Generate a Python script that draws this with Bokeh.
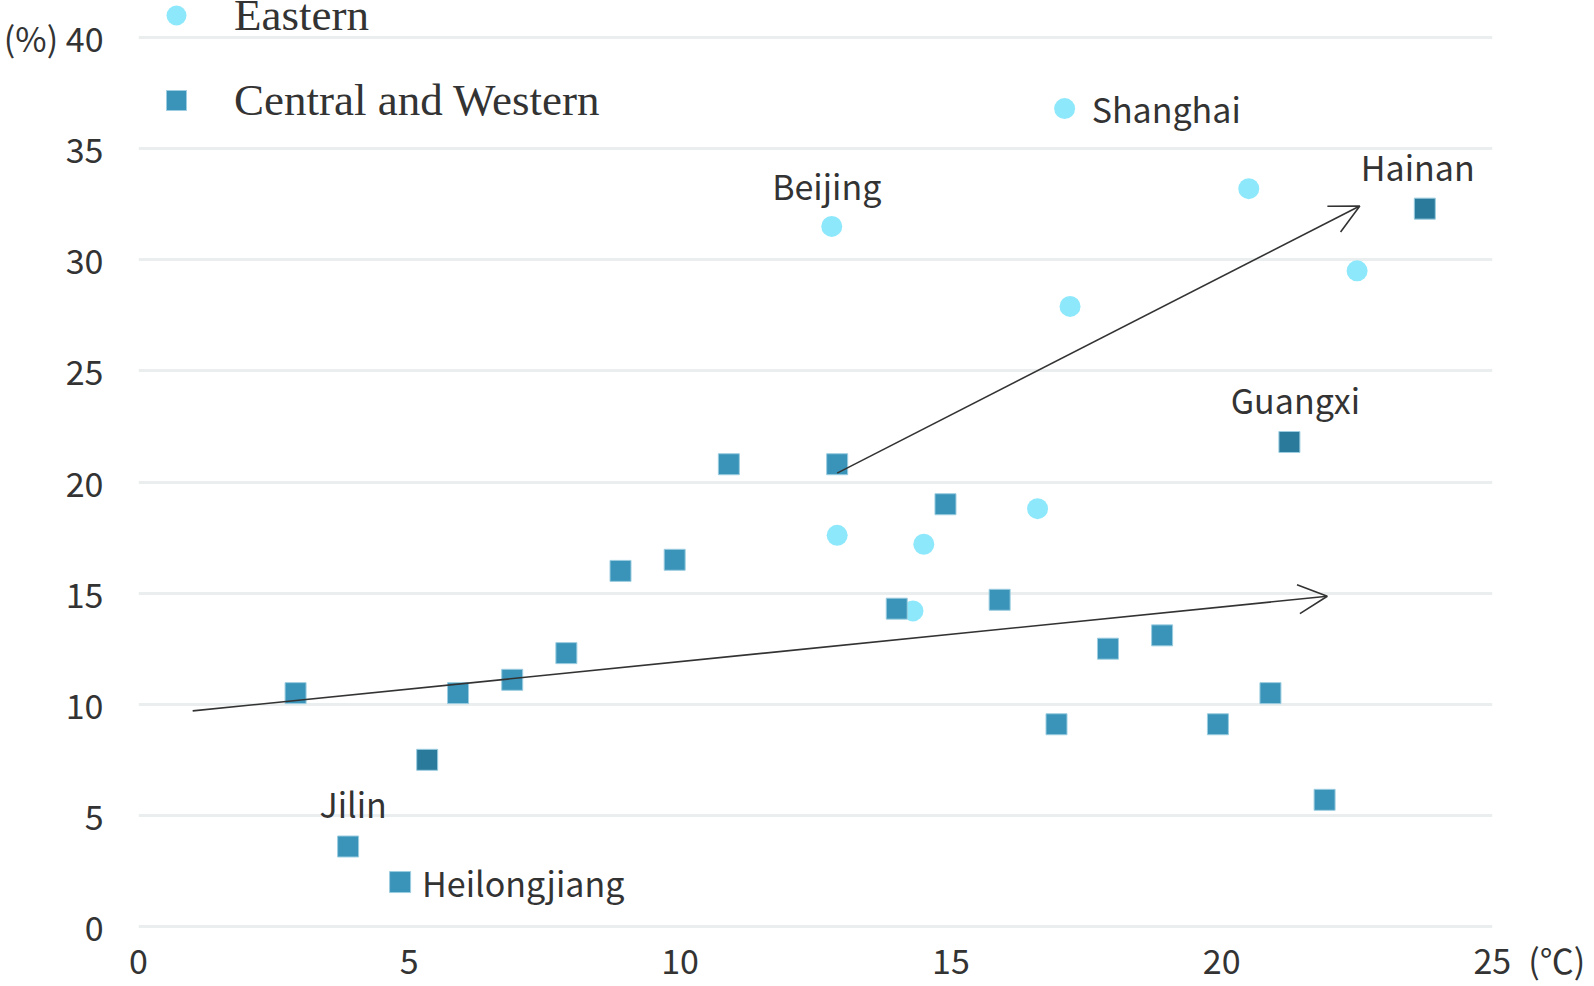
from bokeh.plotting import figure
from bokeh.models import (Range1d, FixedTicker, Legend, LegendItem, Label, Arrow,
                          OpenHead, ColumnDataSource)
from bokeh.embed import file_html
from bokeh.resources import INLINE

# ---------------- data ----------------
legend_labels = ["Eastern", "Central and Western"]

# Eastern provinces: x = mean temperature (°C), y = share (%)
eastern_name = ["Shanghai", "Beijing", "", "", "", "", "", "", ""]
eastern_x = [17.1, 12.8, 20.5, 22.5, 17.2, 12.9, 14.5, 16.6, 14.3]
eastern_y = [36.8, 31.5, 33.2, 29.5, 27.9, 17.6, 17.2, 18.8, 14.2]

# Central and Western provinces
cw_name = ["", "Jilin", "Heilongjiang", "", "", "", "", "", "", "", "", "",
           "", "", "", "", "", "", "", "", "Guangxi", "Hainan"]
cw_x = [2.9, 3.87, 4.83, 5.33, 5.9, 6.9, 7.9, 8.9, 9.9, 10.9, 12.9, 14.0,
        14.9, 15.9, 16.95, 17.9, 18.9, 19.93, 20.9, 21.9, 21.25, 23.75]
cw_y = [10.5, 3.6, 2.0, 7.5, 10.5, 11.1, 12.3, 16.0, 16.5, 20.8, 20.8, 14.3,
        19.0, 14.7, 9.1, 12.5, 13.1, 9.1, 10.5, 5.7, 21.8, 32.3]
cw_highlight = [False, False, False, True, False, False, False, False, False, False, False, False,
                False, False, False, False, False, False, False, False, True, True]

# trend arrows
trend_x0 = [1.0, 12.9]
trend_y0 = [9.7, 20.4]
trend_x1 = [21.95, 22.55]
trend_y1 = [14.86, 32.42]

x_ticks = [0, 5, 10, 15, 20, 25]
y_ticks = [0, 5, 10, 15, 20, 25, 30, 35, 40]
x_unit = "(℃)"
y_unit = "(%)"

# ---------------- styles ----------------
C_EAST = "#8EE8FB"
C_CW = "#3A94B9"
C_CW_DARK = "#2A7B9B"
TXT = "#333333"
SANS = "Noto Sans CJK JP"

label_style = {
    "Shanghai": ("left", 27, 0),
    "Beijing": ("center", -5, 41),
    "Hainan": ("center", -7, 42),
    "Guangxi": ("center", 6, 42),
    "Jilin": ("center", 5, 43),
    "Heilongjiang": ("left", 22, 0),
}

p = figure(width=1594, height=986,
           x_range=Range1d(0, 25), y_range=Range1d(-0.09, 41.665),
           output_backend="svg", toolbar_location=None,
           min_border_left=135, min_border_right=102, min_border_top=0, min_border_bottom=58,
           background_fill_color="white", border_fill_color="white", outline_line_color=None)

p.xgrid.visible = False
p.ygrid.grid_line_color = "#EAEEEE"
p.ygrid.grid_line_width = 3

p.xaxis.ticker = FixedTicker(ticks=x_ticks)
p.yaxis.ticker = FixedTicker(ticks=y_ticks)
for ax in (p.xaxis, p.yaxis):
    ax.axis_line_color = None
    ax.major_tick_line_color = None
    ax.minor_tick_line_color = None
    ax.major_tick_out = 0
    ax.major_tick_in = 0
    ax.major_label_text_font = SANS
    ax.major_label_text_font_size = "34px"
    ax.major_label_text_color = TXT
p.yaxis.major_label_standoff = 35
p.xaxis.major_label_standoff = 6
# unit captions attached to the end ticks
p.yaxis.major_label_overrides = {y_ticks[-1]: f"{y_unit} {y_ticks[-1]}"}
p.xaxis.major_label_overrides = {x_ticks[-1]: "\u2003\u2003\u2006" + f"{x_ticks[-1]}" + "\u2002" + x_unit}

src_e = ColumnDataSource(dict(x=eastern_x, y=eastern_y, name=eastern_name))
src_cw = ColumnDataSource(dict(x=cw_x, y=cw_y, name=cw_name,
                               color=[C_CW_DARK if h else C_CW for h in cw_highlight]))

src_tr = ColumnDataSource(dict(x0=trend_x0, y0=trend_y0, x1=trend_x1, y1=trend_y1))
p.add_layout(Arrow(x_start="x0", y_start="y0", x_end="x1", y_end="y1", source=src_tr,
                   line_color=TXT, line_width=1.6,
                   end=OpenHead(size=29, line_color=TXT, line_width=1.6)))

r_e = p.scatter(x="x", y="y", source=src_e, marker="circle", size=21,
                fill_color=C_EAST, line_color=None)
r_cw = p.scatter(x="x", y="y", source=src_cw, marker="square", size=21,
                 fill_color="color", line_color="#9CCDE0", line_width=1)

legend = Legend(items=[LegendItem(label=legend_labels[0], renderers=[r_e]),
                       LegendItem(label=legend_labels[1], renderers=[r_cw])],
                location=(13, 800), orientation="vertical",
                glyph_width=50, glyph_height=56, label_height=56, spacing=29,
                padding=0, margin=0, label_standoff=33,
                label_text_font="Liberation Serif", label_text_font_size="45px",
                label_text_color=TXT, border_line_color=None, background_fill_alpha=0)
p.add_layout(legend)

# province labels
for names, xs, ys in ((eastern_name, eastern_x, eastern_y), (cw_name, cw_x, cw_y)):
    for n, x, y in zip(names, xs, ys):
        if not n:
            continue
        align, dx, dy = label_style[n]
        p.add_layout(Label(x=x, y=y, text=n, x_offset=dx, y_offset=dy,
                           text_align=align, text_baseline="middle",
                           text_font=SANS, text_font_size="34px", text_color=TXT))

open("out.html", "w").write(file_html(p, INLINE))
